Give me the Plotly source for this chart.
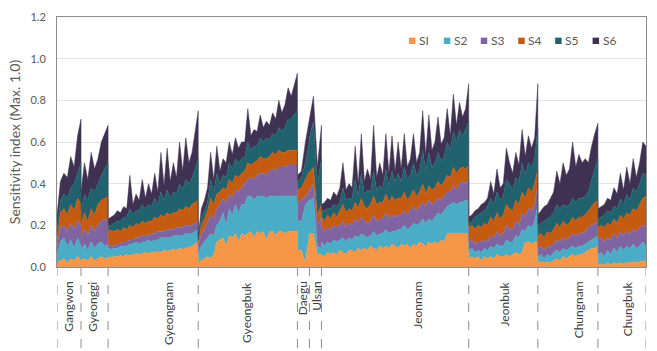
import plotly.graph_objects as go

# ---------------- data (stacked upper edge of each series) -------------
regions = ["Gangwon", "Gyeonggi", "Gyeongnam", "Gyeongbuk", "Daegu", "Ulsan",
           "Jeonnam", "Jeonbuk", "Chungnam", "Chungbuk"]
region_points = [8, 9, 30, 33, 4, 4, 49, 23, 20, 16]
series_names = ["SI", "S2", "S3", "S4", "S5", "S6"]

s1_top = (
    [0.02, 0.03, 0.04, 0.02, 0.04, 0.03, 0.05, 0.03]  # Gangwon
    + [0.03, 0.04, 0.03, 0.05, 0.03, 0.04, 0.05, 0.04, 0.04]  # Gyeonggi
    + [0.05, 0.045, 0.05, 0.05, 0.055, 0.05, 0.06, 0.055, 0.06, 0.065,
       0.06, 0.065, 0.07, 0.065, 0.07, 0.07, 0.075, 0.07, 0.08, 0.075,
       0.08, 0.085, 0.08, 0.09, 0.085, 0.09, 0.095, 0.1, 0.11, 0.12]  # Gyeongnam
    + [0.02, 0.03, 0.04, 0.05, 0.04, 0.06, 0.12, 0.13, 0.14, 0.1,
       0.15, 0.14, 0.16, 0.12, 0.16, 0.15, 0.16, 0.17, 0.14, 0.17,
       0.16, 0.17, 0.13, 0.17, 0.17, 0.15, 0.17, 0.17, 0.16, 0.17,
       0.17, 0.17, 0.17]  # Gyeongbuk
    + [0.08, 0.08, 0.02, 0.15]  # Daegu
    + [0.16, 0.16, 0.06, 0.06]  # Ulsan
    + [0.06, 0.05, 0.07, 0.06, 0.07, 0.06, 0.08, 0.07, 0.06, 0.08,
       0.08, 0.07, 0.09, 0.08, 0.09, 0.08, 0.1, 0.09, 0.08, 0.1,
       0.09, 0.1, 0.09, 0.11, 0.1, 0.09, 0.11, 0.1, 0.11, 0.09,
       0.11, 0.1, 0.12, 0.11, 0.1, 0.12, 0.11, 0.12, 0.11, 0.13,
       0.12, 0.16, 0.16, 0.16, 0.16, 0.16, 0.16, 0.16, 0.16]  # Jeonnam
    + [0.04, 0.05, 0.04, 0.05, 0.03, 0.05, 0.04, 0.05, 0.04, 0.06,
       0.05, 0.05, 0.06, 0.05, 0.06, 0.07, 0.06, 0.07, 0.12, 0.12,
       0.11, 0.12, 0.12]  # Jeonbuk
    + [0.02, 0.025, 0.02, 0.025, 0.02, 0.03, 0.04, 0.03, 0.05, 0.04,
       0.05, 0.06, 0.05, 0.06, 0.06, 0.07, 0.08, 0.09, 0.09, 0.1]  # Chungnam
    + [0.01, 0.015, 0.01, 0.02, 0.01, 0.02, 0.015, 0.02, 0.015, 0.02,
       0.02, 0.025, 0.02, 0.025, 0.03, 0.025]  # Chungbuk
)

s2_top = (
    [0.06, 0.12, 0.14, 0.1, 0.13, 0.09, 0.14, 0.1]
    + [0.08, 0.11, 0.08, 0.12, 0.09, 0.11, 0.12, 0.1, 0.11]
    + [0.09, 0.085, 0.09, 0.09, 0.1, 0.1, 0.1, 0.11, 0.11, 0.12,
       0.11, 0.12, 0.12, 0.13, 0.12, 0.13, 0.13, 0.14, 0.14, 0.14,
       0.14, 0.15, 0.15, 0.15, 0.15, 0.16, 0.16, 0.16, 0.17, 0.18]
    + [0.06, 0.1, 0.12, 0.14, 0.16, 0.15, 0.2, 0.22, 0.26, 0.2,
       0.28, 0.25, 0.3, 0.26, 0.3, 0.3, 0.34, 0.34, 0.32, 0.34,
       0.34, 0.34, 0.33, 0.34, 0.34, 0.34, 0.34, 0.34, 0.34, 0.34,
       0.34, 0.34, 0.34]
    + [0.22, 0.22, 0.3, 0.32]
    + [0.32, 0.33, 0.1, 0.09]
    + [0.12, 0.1, 0.12, 0.11, 0.13, 0.12, 0.13, 0.14, 0.12, 0.14,
       0.13, 0.15, 0.14, 0.16, 0.15, 0.14, 0.15, 0.17, 0.15, 0.16,
       0.16, 0.18, 0.16, 0.17, 0.17, 0.18, 0.18, 0.2, 0.18, 0.19,
       0.21, 0.2, 0.21, 0.23, 0.21, 0.23, 0.22, 0.24, 0.26, 0.25,
       0.27, 0.29, 0.3, 0.31, 0.3, 0.31, 0.31, 0.32, 0.32]
    + [0.08, 0.09, 0.07, 0.08, 0.07, 0.09, 0.08, 0.1, 0.09, 0.11,
       0.1, 0.1, 0.13, 0.12, 0.12, 0.15, 0.14, 0.18, 0.17, 0.2,
       0.19, 0.22, 0.3]
    + [0.05, 0.06, 0.04, 0.06, 0.05, 0.07, 0.08, 0.07, 0.09, 0.08,
       0.09, 0.1, 0.09, 0.1, 0.1, 0.11, 0.12, 0.13, 0.14, 0.15]
    + [0.06, 0.07, 0.05, 0.08, 0.06, 0.09, 0.07, 0.1, 0.08, 0.1,
       0.09, 0.11, 0.09, 0.1, 0.12, 0.1]
)

s3_top = (
    [0.1, 0.19, 0.2, 0.17, 0.21, 0.18, 0.22, 0.2]
    + [0.14, 0.18, 0.15, 0.2, 0.17, 0.2, 0.22, 0.23, 0.22]
    + [0.105, 0.1, 0.1, 0.11, 0.11, 0.12, 0.12, 0.13, 0.13, 0.14,
       0.14, 0.15, 0.15, 0.15, 0.16, 0.16, 0.17, 0.17, 0.17, 0.18,
       0.18, 0.18, 0.19, 0.19, 0.19, 0.2, 0.2, 0.2, 0.21, 0.22]
    + [0.1, 0.16, 0.18, 0.22, 0.25, 0.23, 0.28, 0.3, 0.33, 0.3,
       0.35, 0.33, 0.37, 0.36, 0.38, 0.4, 0.42, 0.43, 0.42, 0.44,
       0.45, 0.45, 0.44, 0.46, 0.47, 0.46, 0.48, 0.48, 0.48, 0.49,
       0.49, 0.49, 0.49]
    + [0.31, 0.32, 0.34, 0.36]
    + [0.37, 0.4, 0.2, 0.24]
    + [0.19, 0.17, 0.19, 0.18, 0.2, 0.19, 0.2, 0.22, 0.19, 0.21,
       0.2, 0.23, 0.21, 0.24, 0.22, 0.21, 0.22, 0.25, 0.22, 0.23,
       0.23, 0.26, 0.23, 0.25, 0.24, 0.25, 0.25, 0.27, 0.25, 0.27,
       0.29, 0.27, 0.29, 0.31, 0.29, 0.32, 0.3, 0.31, 0.33, 0.32,
       0.34, 0.36, 0.36, 0.39, 0.37, 0.4, 0.41, 0.4, 0.42]
    + [0.12, 0.13, 0.11, 0.12, 0.12, 0.13, 0.12, 0.15, 0.14, 0.17,
       0.15, 0.16, 0.2, 0.18, 0.18, 0.22, 0.2, 0.26, 0.24, 0.28,
       0.27, 0.3, 0.4]
    + [0.09, 0.1, 0.08, 0.1, 0.1, 0.11, 0.13, 0.12, 0.14, 0.13,
       0.14, 0.16, 0.15, 0.16, 0.16, 0.17, 0.19, 0.2, 0.21, 0.22]
    + [0.13, 0.14, 0.12, 0.14, 0.13, 0.16, 0.14, 0.17, 0.15, 0.17,
       0.16, 0.18, 0.17, 0.19, 0.2, 0.19]
)

s4_top = (
    [0.13, 0.26, 0.28, 0.25, 0.3, 0.27, 0.33, 0.3]
    + [0.2, 0.26, 0.22, 0.28, 0.25, 0.3, 0.32, 0.33, 0.34]
    + [0.175, 0.175, 0.17, 0.18, 0.17, 0.19, 0.18, 0.2, 0.19, 0.21,
       0.2, 0.22, 0.21, 0.22, 0.22, 0.24, 0.23, 0.25, 0.24, 0.26,
       0.25, 0.26, 0.26, 0.28, 0.27, 0.29, 0.28, 0.3, 0.31, 0.32]
    + [0.12, 0.2, 0.23, 0.27, 0.33, 0.3, 0.35, 0.36, 0.38, 0.37,
       0.42, 0.4, 0.44, 0.43, 0.45, 0.46, 0.5, 0.49, 0.5, 0.51,
       0.53, 0.52, 0.52, 0.53, 0.55, 0.54, 0.56, 0.55, 0.55, 0.56,
       0.56, 0.56, 0.56]
    + [0.37, 0.38, 0.42, 0.46]
    + [0.45, 0.48, 0.25, 0.3]
    + [0.24, 0.22, 0.25, 0.23, 0.26, 0.24, 0.27, 0.3, 0.26, 0.28,
       0.27, 0.31, 0.28, 0.33, 0.29, 0.28, 0.3, 0.34, 0.3, 0.31,
       0.31, 0.35, 0.31, 0.34, 0.32, 0.33, 0.33, 0.36, 0.32, 0.34,
       0.37, 0.34, 0.36, 0.4, 0.35, 0.39, 0.37, 0.38, 0.41, 0.39,
       0.41, 0.44, 0.43, 0.48, 0.45, 0.47, 0.48, 0.47, 0.49]
    + [0.19, 0.2, 0.18, 0.2, 0.19, 0.21, 0.2, 0.24, 0.22, 0.26,
       0.23, 0.25, 0.3, 0.28, 0.27, 0.32, 0.3, 0.36, 0.33, 0.38,
       0.36, 0.4, 0.47]
    + [0.15, 0.16, 0.14, 0.17, 0.16, 0.18, 0.21, 0.19, 0.22, 0.2,
       0.21, 0.24, 0.22, 0.24, 0.24, 0.25, 0.27, 0.29, 0.31, 0.32]
    + [0.19, 0.2, 0.19, 0.21, 0.2, 0.23, 0.21, 0.25, 0.23, 0.26,
       0.25, 0.28, 0.27, 0.3, 0.33, 0.34]
)

s5_top = (
    [0.18, 0.32, 0.35, 0.33, 0.38, 0.4, 0.45, 0.5]
    + [0.27, 0.35, 0.32, 0.38, 0.36, 0.4, 0.44, 0.47, 0.5]
    + [0.2, 0.2, 0.21, 0.22, 0.22, 0.24, 0.24, 0.28, 0.25, 0.27,
       0.27, 0.3, 0.28, 0.3, 0.29, 0.33, 0.3, 0.36, 0.32, 0.37,
       0.33, 0.36, 0.35, 0.4, 0.37, 0.42, 0.4, 0.43, 0.47, 0.52]
    + [0.13, 0.24, 0.27, 0.31, 0.42, 0.36, 0.45, 0.4, 0.44, 0.43,
       0.5, 0.47, 0.52, 0.5, 0.52, 0.53, 0.6, 0.56, 0.58, 0.58,
       0.62, 0.6, 0.62, 0.61, 0.64, 0.63, 0.67, 0.65, 0.67, 0.71,
       0.71, 0.73, 0.75]
    + [0.41, 0.43, 0.5, 0.6]
    + [0.62, 0.7, 0.4, 0.52]
    + [0.27, 0.27, 0.28, 0.28, 0.3, 0.29, 0.31, 0.38, 0.32, 0.33,
       0.33, 0.42, 0.34, 0.45, 0.35, 0.37, 0.36, 0.46, 0.37, 0.39,
       0.38, 0.47, 0.39, 0.46, 0.41, 0.45, 0.41, 0.48, 0.42, 0.44,
       0.5, 0.44, 0.46, 0.56, 0.46, 0.55, 0.48, 0.5, 0.55, 0.51,
       0.53, 0.6, 0.56, 0.65, 0.6, 0.66, 0.63, 0.66, 0.7]
    + [0.21, 0.22, 0.24, 0.25, 0.26, 0.27, 0.29, 0.33, 0.3, 0.36,
       0.32, 0.34, 0.42, 0.4, 0.37, 0.43, 0.41, 0.5, 0.44, 0.5,
       0.48, 0.52, 0.67]
    + [0.2, 0.21, 0.22, 0.23, 0.24, 0.26, 0.3, 0.28, 0.3, 0.29,
       0.3, 0.33, 0.31, 0.33, 0.33, 0.34, 0.36, 0.42, 0.47, 0.52]
    + [0.23, 0.24, 0.25, 0.27, 0.26, 0.29, 0.28, 0.33, 0.3, 0.35,
       0.32, 0.38, 0.36, 0.4, 0.45, 0.44]
)

s6_top = (
    [0.25, 0.41, 0.45, 0.43, 0.53, 0.48, 0.63, 0.71]
    + [0.36, 0.5, 0.42, 0.55, 0.47, 0.52, 0.6, 0.64, 0.68]
    + [0.23, 0.24, 0.25, 0.27, 0.26, 0.29, 0.28, 0.44, 0.3, 0.35,
       0.32, 0.42, 0.33, 0.4, 0.35, 0.45, 0.36, 0.55, 0.39, 0.57,
       0.41, 0.5, 0.43, 0.6, 0.46, 0.62, 0.5, 0.55, 0.66, 0.75]
    + [0.15, 0.28, 0.32, 0.38, 0.55, 0.42, 0.58, 0.46, 0.52, 0.5,
       0.6, 0.54, 0.62, 0.57, 0.6, 0.6, 0.76, 0.63, 0.66, 0.65,
       0.73, 0.67, 0.7, 0.68, 0.74, 0.71, 0.8, 0.74, 0.78, 0.86,
       0.82, 0.88, 0.93]
    + [0.44, 0.46, 0.6, 0.72]
    + [0.7, 0.82, 0.48, 0.68]
    + [0.3, 0.31, 0.33, 0.32, 0.36, 0.34, 0.38, 0.5, 0.37, 0.4,
       0.38, 0.58, 0.4, 0.64, 0.41, 0.47, 0.42, 0.68, 0.43, 0.5,
       0.44, 0.64, 0.45, 0.63, 0.46, 0.6, 0.47, 0.64, 0.48, 0.52,
       0.64, 0.5, 0.55, 0.75, 0.54, 0.73, 0.56, 0.6, 0.72, 0.59,
       0.62, 0.76, 0.63, 0.83, 0.68, 0.79, 0.72, 0.76, 0.88]
    + [0.24, 0.25, 0.27, 0.28, 0.3, 0.31, 0.33, 0.41, 0.35, 0.47,
       0.38, 0.4, 0.57, 0.5, 0.45, 0.55, 0.49, 0.66, 0.53, 0.63,
       0.57, 0.62, 0.88]
    + [0.25, 0.27, 0.29, 0.3, 0.33, 0.36, 0.46, 0.4, 0.5, 0.44,
       0.47, 0.6, 0.48, 0.54, 0.5, 0.52, 0.5, 0.58, 0.64, 0.69]
    + [0.28, 0.29, 0.3, 0.33, 0.32, 0.38, 0.35, 0.45, 0.37, 0.48,
       0.4, 0.52, 0.43, 0.5, 0.6, 0.58]
)

y_ticks = [0.0, 0.2, 0.4, 0.6, 0.8, 1.0, 1.2]

# ---------------- styling / layout -----------------------------------------------------
colors = ["#F79646", "#4BACC6", "#8064A2", "#C55A11", "#20636F", "#3F3151"]
FONT = "Lato, 'Open Sans', sans-serif"
W, H = 657, 351
ML, MR, MT, MB = 57, 10, 12, 84
PW, PH = W - ML - MR, H - MT - MB

tops = [s1_top, s2_top, s3_top, s4_top, s5_top, s6_top]
total = sum(region_points)
for t in tops:
    assert len(t) == total, len(t)

# x positions: each region spans its own slot [start, end]
bounds = [0]
for n in region_points:
    bounds.append(bounds[-1] + n)
x = []
for i, n in enumerate(region_points):
    a, b = bounds[i], bounds[i + 1]
    x += [a + (b - a) * j / (n - 1) for j in range(n)]

fig = go.Figure()
for i, (name, t) in enumerate(zip(series_names, tops)):
    fig.add_trace(go.Scatter(
        x=x, y=t, name=name, mode="lines",
        line=dict(width=0.5, color=colors[i]),
        fill="tozeroy" if i == 0 else "tonexty",
        fillcolor=colors[i], showlegend=False,
    ))

shapes = []
# region separators (dashed, below the plot)
for bx in bounds:
    shapes.append(dict(type="line", xref="x", yref="paper", x0=bx, x1=bx,
                       y0=0, y1=-MB / PH - 0.02,
                       line=dict(color="#8C8C8C", width=1, dash="dash")))

# manual legend (compact, like the original)
legend_px = [409.5, 444.5, 481.5, 519, 556, 593.5]
legend_y = 36.3
sq = 6.5
annotations = []
for i, name in enumerate(series_names):
    px = legend_px[i]
    shapes.append(dict(type="rect", xref="paper", yref="paper",
                       x0=(px - ML) / PW, x1=(px + sq - ML) / PW,
                       y0=(H - MB - legend_y - sq / 2) / PH,
                       y1=(H - MB - legend_y + sq / 2) / PH,
                       fillcolor=colors[i], line=dict(width=0)))
    annotations.append(dict(xref="paper", yref="paper",
                            x=(px + sq + 1.5 - ML) / PW,
                            y=(H - MB - legend_y) / PH,
                            text=name, showarrow=False, xanchor="left",
                            yanchor="middle",
                            font=dict(family=FONT, size=12, color="#595959")))

# region labels (rotated)
label_px = [69, 93, 168, 247, 303, 317, 418, 505, 579, 628]
for name, px in zip(regions, label_px):
    annotations.append(dict(xref="paper", yref="paper",
                            x=(px - ML) / PW, y=(H - MB - 280) / PH,
                            text=name, showarrow=False, textangle=-90,
                            xanchor="center", yanchor="top",
                            font=dict(family=FONT, size=12, color="#404040")))

fig.update_layout(
    width=W, height=H,
    margin=dict(l=ML, r=MR, t=MT, b=MB),
    paper_bgcolor="white", plot_bgcolor="white",
    font=dict(family=FONT, color="#595959"),
    shapes=shapes, annotations=annotations,
    showlegend=False,
    xaxis=dict(range=[0, total], showticklabels=False, showgrid=False,
               zeroline=False, ticks="", showline=True, mirror=True,
               linecolor="#8C8C8C", linewidth=1),
    yaxis=dict(range=[0, 1.2], tickvals=y_ticks, tickformat=".1f",
               showgrid=True, gridcolor="#E3E3E3", gridwidth=1,
               zeroline=False, ticks="", showline=True, mirror=True,
               linecolor="#8C8C8C", linewidth=1,
               tickfont=dict(family=FONT, size=11, color="#595959"),
               ticklabelstandoff=8,
               title=dict(text="Sensitivity index (Max. 1.0)", standoff=6,
                          font=dict(family=FONT, size=14, color="#595959"))),
)

fig.write_html("out.html")
